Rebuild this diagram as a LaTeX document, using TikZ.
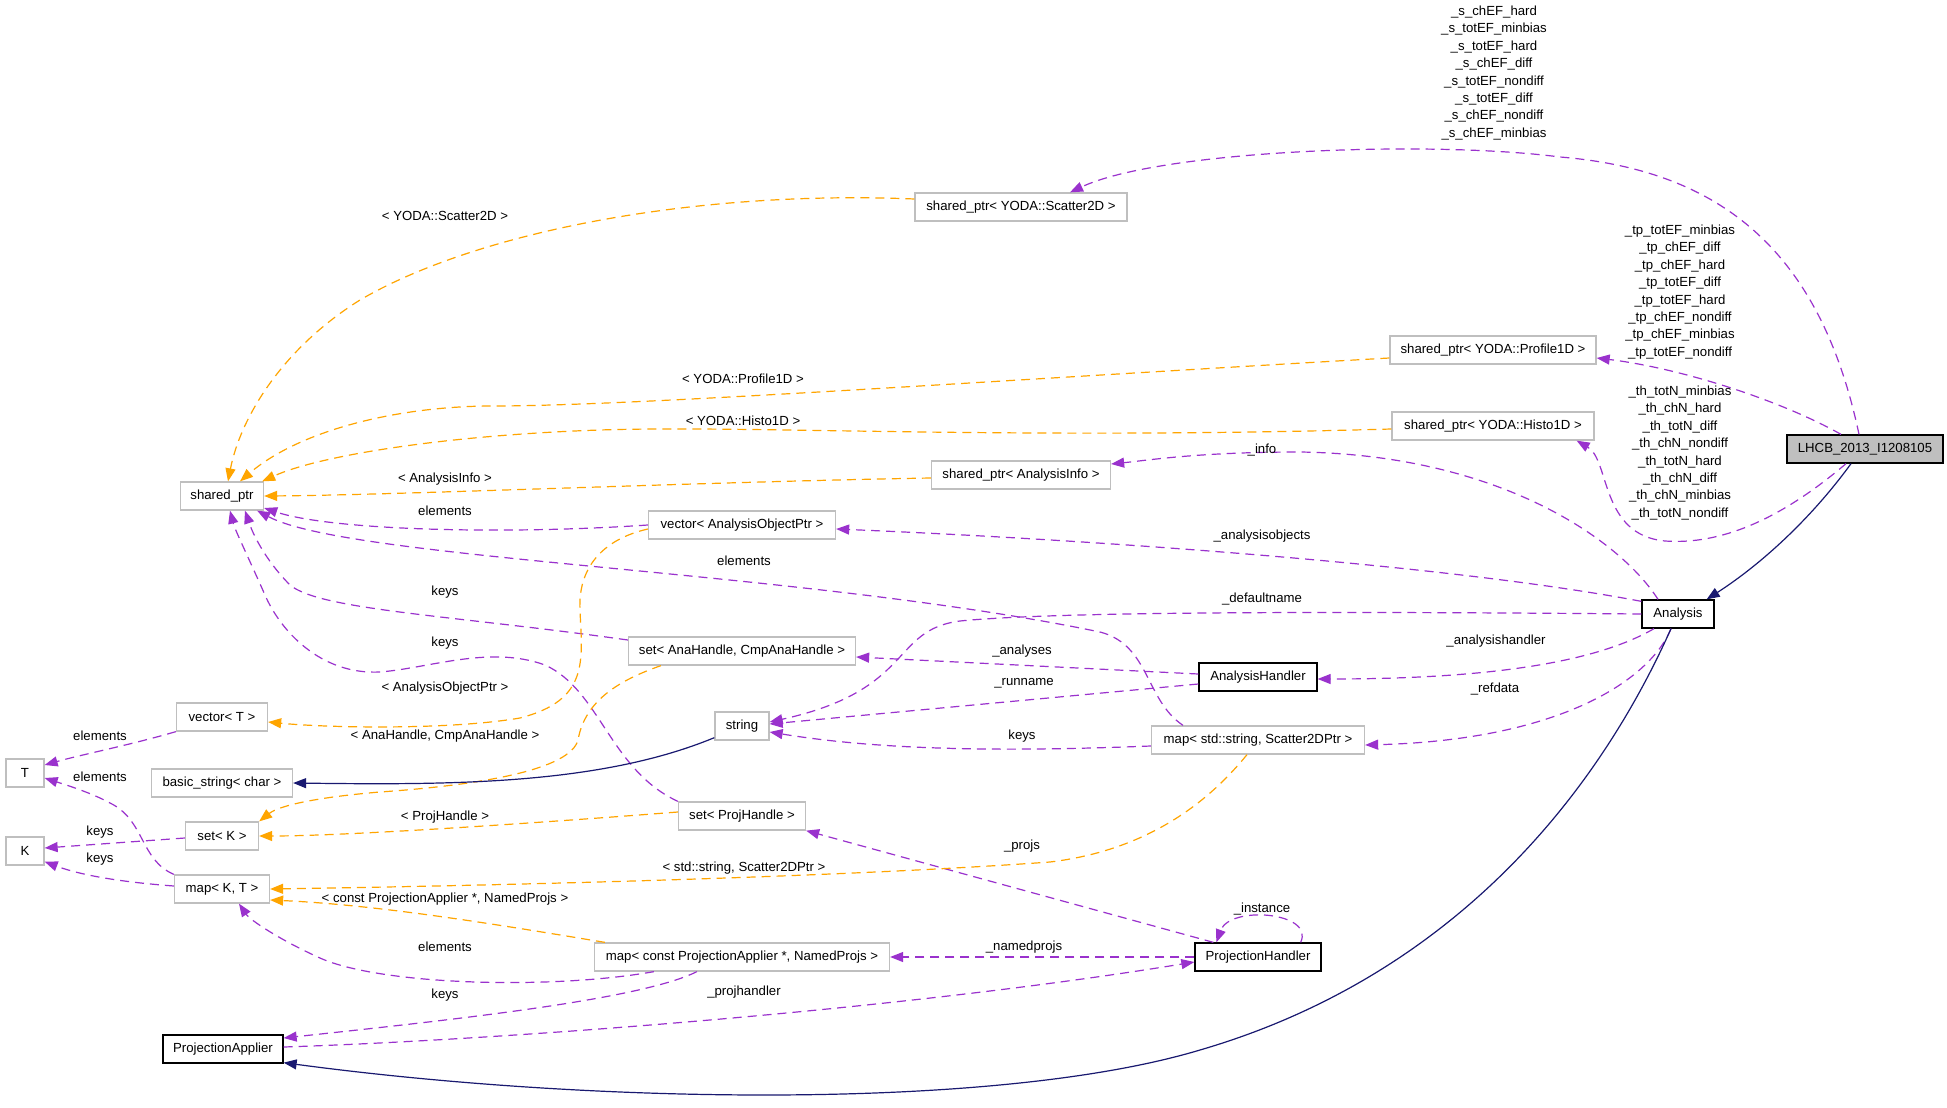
\documentclass[tikz,border=0pt]{standalone}
\usepackage{fontspec}
\setmainfont{Liberation Sans}
\usetikzlibrary{arrows.meta,calc}
\definecolor{pur}{HTML}{9A32CD}
\definecolor{org}{HTML}{FFA500}
\definecolor{nav}{HTML}{191970}
\definecolor{bgray}{HTML}{BFBFBF}
\newcommand\lblfont{\fontsize{13.2}{17.4}\selectfont}
\begin{document}
\begin{tikzpicture}[x=1pt,y=-1pt,
  box/.style={draw=bgray,line width=1.3pt,minimum height=28pt,inner sep=0pt,font=\lblfont,anchor=center,fill=white},
  bbox/.style={box,draw=black},
  pe/.style={draw=pur,line width=1.2pt,dash pattern=on 9pt off 6pt,-{Triangle[length=13pt,width=10pt,fill=pur]}},
  te/.style={draw=org,line width=1.2pt,dash pattern=on 9pt off 6pt,-{Triangle[length=13pt,width=10pt,fill=org]}},
  ie/.style={draw=nav,line width=1.2pt,-{Triangle[length=13pt,width=10pt,fill=nav]}},
  lab/.style={font=\lblfont,inner sep=0pt,align=center}
]
\fill[white] (0,0) rectangle (1947,1108);
\useasboundingbox (0,0) rectangle (1947,1108);

% nodes
\node[bbox,fill=bgray,minimum width=156pt] (lhcb) at (1865,449) {LHCB\_2013\_I1208105};
\node[bbox,minimum width=72pt] (analysis) at (1678,614) {Analysis};
\node[bbox,minimum width=118pt] (ah) at (1258,677) {AnalysisHandler};
\node[bbox,minimum width=126pt] (ph) at (1258,957) {ProjectionHandler};
\node[bbox,minimum width=120pt] (pa) at (223,1049) {ProjectionApplier};
\node[box,minimum width=83pt] (sp) at (222,496) {shared\_ptr};
\node[box,minimum width=212pt] (spS) at (1021,207) {shared\_ptr< YODA::Scatter2D >};
\node[box,minimum width=206pt] (spP) at (1493,350) {shared\_ptr< YODA::Profile1D >};
\node[box,minimum width=202pt] (spH) at (1493,426) {shared\_ptr< YODA::Histo1D >};
\node[box,minimum width=179pt] (spI) at (1021,475) {shared\_ptr< AnalysisInfo >};
\node[box,minimum width=187pt] (vAOP) at (742,525) {vector< AnalysisObjectPtr >};
\node[box,minimum width=227pt] (sAH) at (742,651) {set< AnaHandle, CmpAnaHandle >};
\node[box,minimum width=54pt] (str) at (742,726) {string};
\node[box,minimum width=127pt] (sPH) at (742,816) {set< ProjHandle >};
\node[box,minimum width=213pt] (mSS) at (1258,740) {map< std::string, Scatter2DPtr >};
\node[box,minimum width=295pt] (mCPA) at (742,957) {map< const ProjectionApplier *, NamedProjs >};
\node[box,minimum width=91pt] (vT) at (222,717) {vector< T >};
\node[box,minimum width=38pt] (nT) at (25,773) {T};
\node[box,minimum width=141pt] (bs) at (222,783) {basic\_string< char >};
\node[box,minimum width=73pt] (sK) at (222,836) {set< K >};
\node[box,minimum width=38pt] (nK) at (25,851) {K};
\node[box,minimum width=95pt] (mKT) at (222,889) {map< K, T >};

% purple usage edges
\draw[pe] ($(lhcb.north)+(-6,0)$) .. controls (1820,250) and (1720,170) .. (1560,157) .. controls (1430,140) and (1160,150) .. ($(spS.north)+(49,0)$);
\draw[pe] ($(lhcb.north)+(-24,0)$) .. controls (1780,400) and (1680,368) .. ($(spP.east)+(0,8)$);
\draw[pe] ($(lhcb.south)+(-19,0)$) .. controls (1780,520) and (1720,545) .. (1665,541) .. controls (1600,535) and (1610,460) .. ($(spH.south east)+(-18,0)$);
\draw[pe] ($(analysis.north)+(-20,0)$) .. controls (1620,540) and (1500,455) .. (1300,452) .. controls (1200,452) and (1150,460) .. ($(spI.east)+(0,-11)$);
\draw[pe] ($(analysis.north west)+(0,2)$) .. controls (1450,565) and (1100,540) .. ($(vAOP.east)+(0,4)$);
\draw[pe] (analysis.west) .. controls (1300,611) and (1050,612) .. (960,621) .. controls (890,630) and (915,690) .. ($(str.east)+(0,-4)$);
\draw[pe] ($(analysis.south)+(-24,0)$) .. controls (1600,660) and (1500,679) .. ($(ah.east)+(0,2)$);
\draw[pe] ($(analysis.south)+(-7,0)$) .. controls (1650,680) and (1560,740) .. ($(mSS.east)+(0,5)$);
\draw[pe] ($(ah.west)+(0,-3)$) -- ($(sAH.east)+(0,6)$);
\draw[pe] ($(ah.west)+(0,7)$) -- ($(str.east)+(0,-2)$);
\draw[pe] ($(mSS.west)+(0,6)$) .. controls (1000,752) and (880,750) .. ($(str.east)+(0,6)$);
\draw[pe] ($(mSS.north)+(-75,0)$) .. controls (1145,700) and (1150,645) .. (1100,632) .. controls (800,570) and (350,560) .. ($(sp.south east)+(-7,0)$);
\draw[pe] (vAOP.west) .. controls (500,535) and (330,530) .. ($(sp.east)+(0,12)$);
\draw[pe] ($(sAH.west)+(0,-11)$) .. controls (450,615) and (320,610) .. (290,585) .. controls (270,565) and (255,540) .. ($(sp.south)+(23,0)$);
\draw[pe] (sPH.north west) .. controls (610,770) and (600,690) .. (545,665) .. controls (490,645) and (430,668) .. (380,672) .. controls (320,675) and (280,630) .. (265,595) .. controls (245,550) and (235,530) .. ($(sp.south)+(8,0)$);
\draw[pe] ($(mCPA.south west)+(60,0)$) .. controls (550,990) and (380,985) .. (320,958) .. controls (280,940) and (250,920) .. ($(mKT.south)+(17,0)$);
\draw[pe] ($(mCPA.south west)+(103,0)$) .. controls (640,1000) and (450,1020) .. ($(pa.east)+(0,-11)$);
\draw[pe] ($(pa.east)+(0,-2)$) .. controls (500,1040) and (900,1010) .. ($(ph.west)+(0,5)$);
\draw[pe] (ph.west) -- (mCPA.east);
\draw[pe] ($(ph.north west)+(19,0)$) -- (sPH.south east);
\draw[pe] ($(ph.north east)+(-21,0)$) .. controls (1315,912) and (1230,905) .. ($(ph.north west)+(22,0)$);
\draw[pe] (vT.south west) .. controls (130,745) and (80,755) .. ($(nT.east)+(0,-8)$);
\draw[pe] (mKT.north west) .. controls (140,860) and (145,820) .. (110,803) .. controls (90,792) and (60,783) .. ($(nT.east)+(0,5)$);
\draw[pe] ($(sK.west)+(0,2)$) -- ($(nK.east)+(0,-3)$);
\draw[pe] ($(mKT.west)+(0,-3)$) .. controls (120,882) and (80,875) .. ($(nK.south east)+(0,-4)$);

% orange template edges
\draw[te] ($(vAOP.west)+(0,4)$) .. controls (600,540) and (578,570) .. (580,610) .. controls (582,660) and (590,700) .. (520,718) .. controls (450,730) and (330,728) .. ($(vT.east)+(0,5)$);
\draw[te] ($(sAH.south west)+(33,0)$) .. controls (620,680) and (585,700) .. (578,740) .. controls (570,770) and (480,785) .. (380,792) .. controls (320,797) and (280,805) .. (sK.north east);
\draw[te] ($(sPH.west)+(0,-4)$) .. controls (550,822) and (350,836) .. (sK.east);
\draw[te] ($(mSS.south)+(-11,0)$) .. controls (1210,800) and (1150,850) .. (1050,862) .. controls (800,880) and (400,887) .. (mKT.east);
\draw[te] ($(mCPA.north west)+(11,0)$) .. controls (500,925) and (380,905) .. ($(mKT.east)+(0,11)$);
\draw[te] ($(spI.west)+(0,3)$) .. controls (700,482) and (400,495) .. (sp.east);
\draw[te] ($(spH.west)+(0,3)$) .. controls (1000,440) and (750,425) .. (600,430) .. controls (450,435) and (320,455) .. ($(sp.north east)+(-2,0)$);
\draw[te] ($(spP.west)+(0,8)$) .. controls (1000,380) and (650,405) .. (500,406) .. controls (400,405) and (300,430) .. ($(sp.north)+(18,0)$);
\draw[te] ($(spS.west)+(0,-8)$) .. controls (700,190) and (480,230) .. (360,300) .. controls (280,350) and (240,420) .. ($(sp.north)+(6,0)$);

% navy inheritance edges
\draw[ie] ($(lhcb.south)+(-14,0)$) .. controls (1810,520) and (1760,565) .. ($(analysis.north east)+(-8,0)$);
\draw[ie] ($(analysis.south)+(-7,0)$) .. controls (1590,810) and (1440,980) .. (1200,1050) .. controls (1000,1110) and (600,1105) .. ($(pa.south east)+(0,-1)$);
\draw[ie] ($(str.south west)+(0,-3)$) .. controls (600,785) and (450,785) .. (bs.east);

% labels
\node[lab] (l1) at (1494,73) {\_s\_chEF\_hard\\\_s\_totEF\_minbias\\\_s\_totEF\_hard\\\_s\_chEF\_diff\\\_s\_totEF\_nondiff\\\_s\_totEF\_diff\\\_s\_chEF\_nondiff\\\_s\_chEF\_minbias};
\node[lab] (l2) at (1680,292) {\_tp\_totEF\_minbias\\\_tp\_chEF\_diff\\\_tp\_chEF\_hard\\\_tp\_totEF\_diff\\\_tp\_totEF\_hard\\\_tp\_chEF\_nondiff\\\_tp\_chEF\_minbias\\\_tp\_totEF\_nondiff};
\node[lab] (l3) at (1680,453) {\_th\_totN\_minbias\\\_th\_chN\_hard\\\_th\_totN\_diff\\\_th\_chN\_nondiff\\\_th\_totN\_hard\\\_th\_chN\_diff\\\_th\_chN\_minbias\\\_th\_totN\_nondiff};
\node[lab] (l4) at (445,216) {< YODA::Scatter2D >};
\node[lab] (l5) at (743,379) {< YODA::Profile1D >};
\node[lab] (l6) at (743,421) {< YODA::Histo1D >};
\node[lab] (l7) at (445,479) {< AnalysisInfo >};
\node[lab] (l8) at (445,511) {elements};
\node[lab] (l9) at (1262,450) {\_info};
\node[lab] (l10) at (1262,536) {\_analysisobjects};
\node[lab] (l11) at (744,561) {elements};
\node[lab] (l12) at (445,592) {keys};
\node[lab] (l13) at (1262,599) {\_defaultname};
\node[lab] (l14) at (445,643) {keys};
\node[lab] (l15) at (1022,651) {\_analyses};
\node[lab] (l16) at (1496,641) {\_analysishandler};
\node[lab] (l17) at (1024,683) {\_runname};
\node[lab] (l18) at (445,688) {< AnalysisObjectPtr >};
\node[lab] (l19) at (1495,689) {\_refdata};
\node[lab] (l20) at (1022,736) {keys};
\node[lab] (l21) at (445,736) {< AnaHandle, CmpAnaHandle >};
\node[lab] (l22) at (100,736) {elements};
\node[lab] (l23) at (100,777) {elements};
\node[lab] (l24) at (445,817) {< ProjHandle >};
\node[lab] (l25) at (100,832) {keys};
\node[lab] (l26) at (100,859) {keys};
\node[lab] (l27) at (1022,846) {\_projs};
\node[lab] (l28) at (744,868) {< std::string, Scatter2DPtr >};
\node[lab] (l29) at (445,899) {< const ProjectionApplier *, NamedProjs >};
\node[lab] (l30) at (1262,909) {\_instance};
\node[lab] (l31) at (1024,947) {\_namedprojs};
\node[lab] (l32) at (445,947) {elements};
\node[lab] (l33) at (744,992) {\_projhandler};
\node[lab] (l34) at (445,995) {keys};
\end{tikzpicture}
\end{document}
